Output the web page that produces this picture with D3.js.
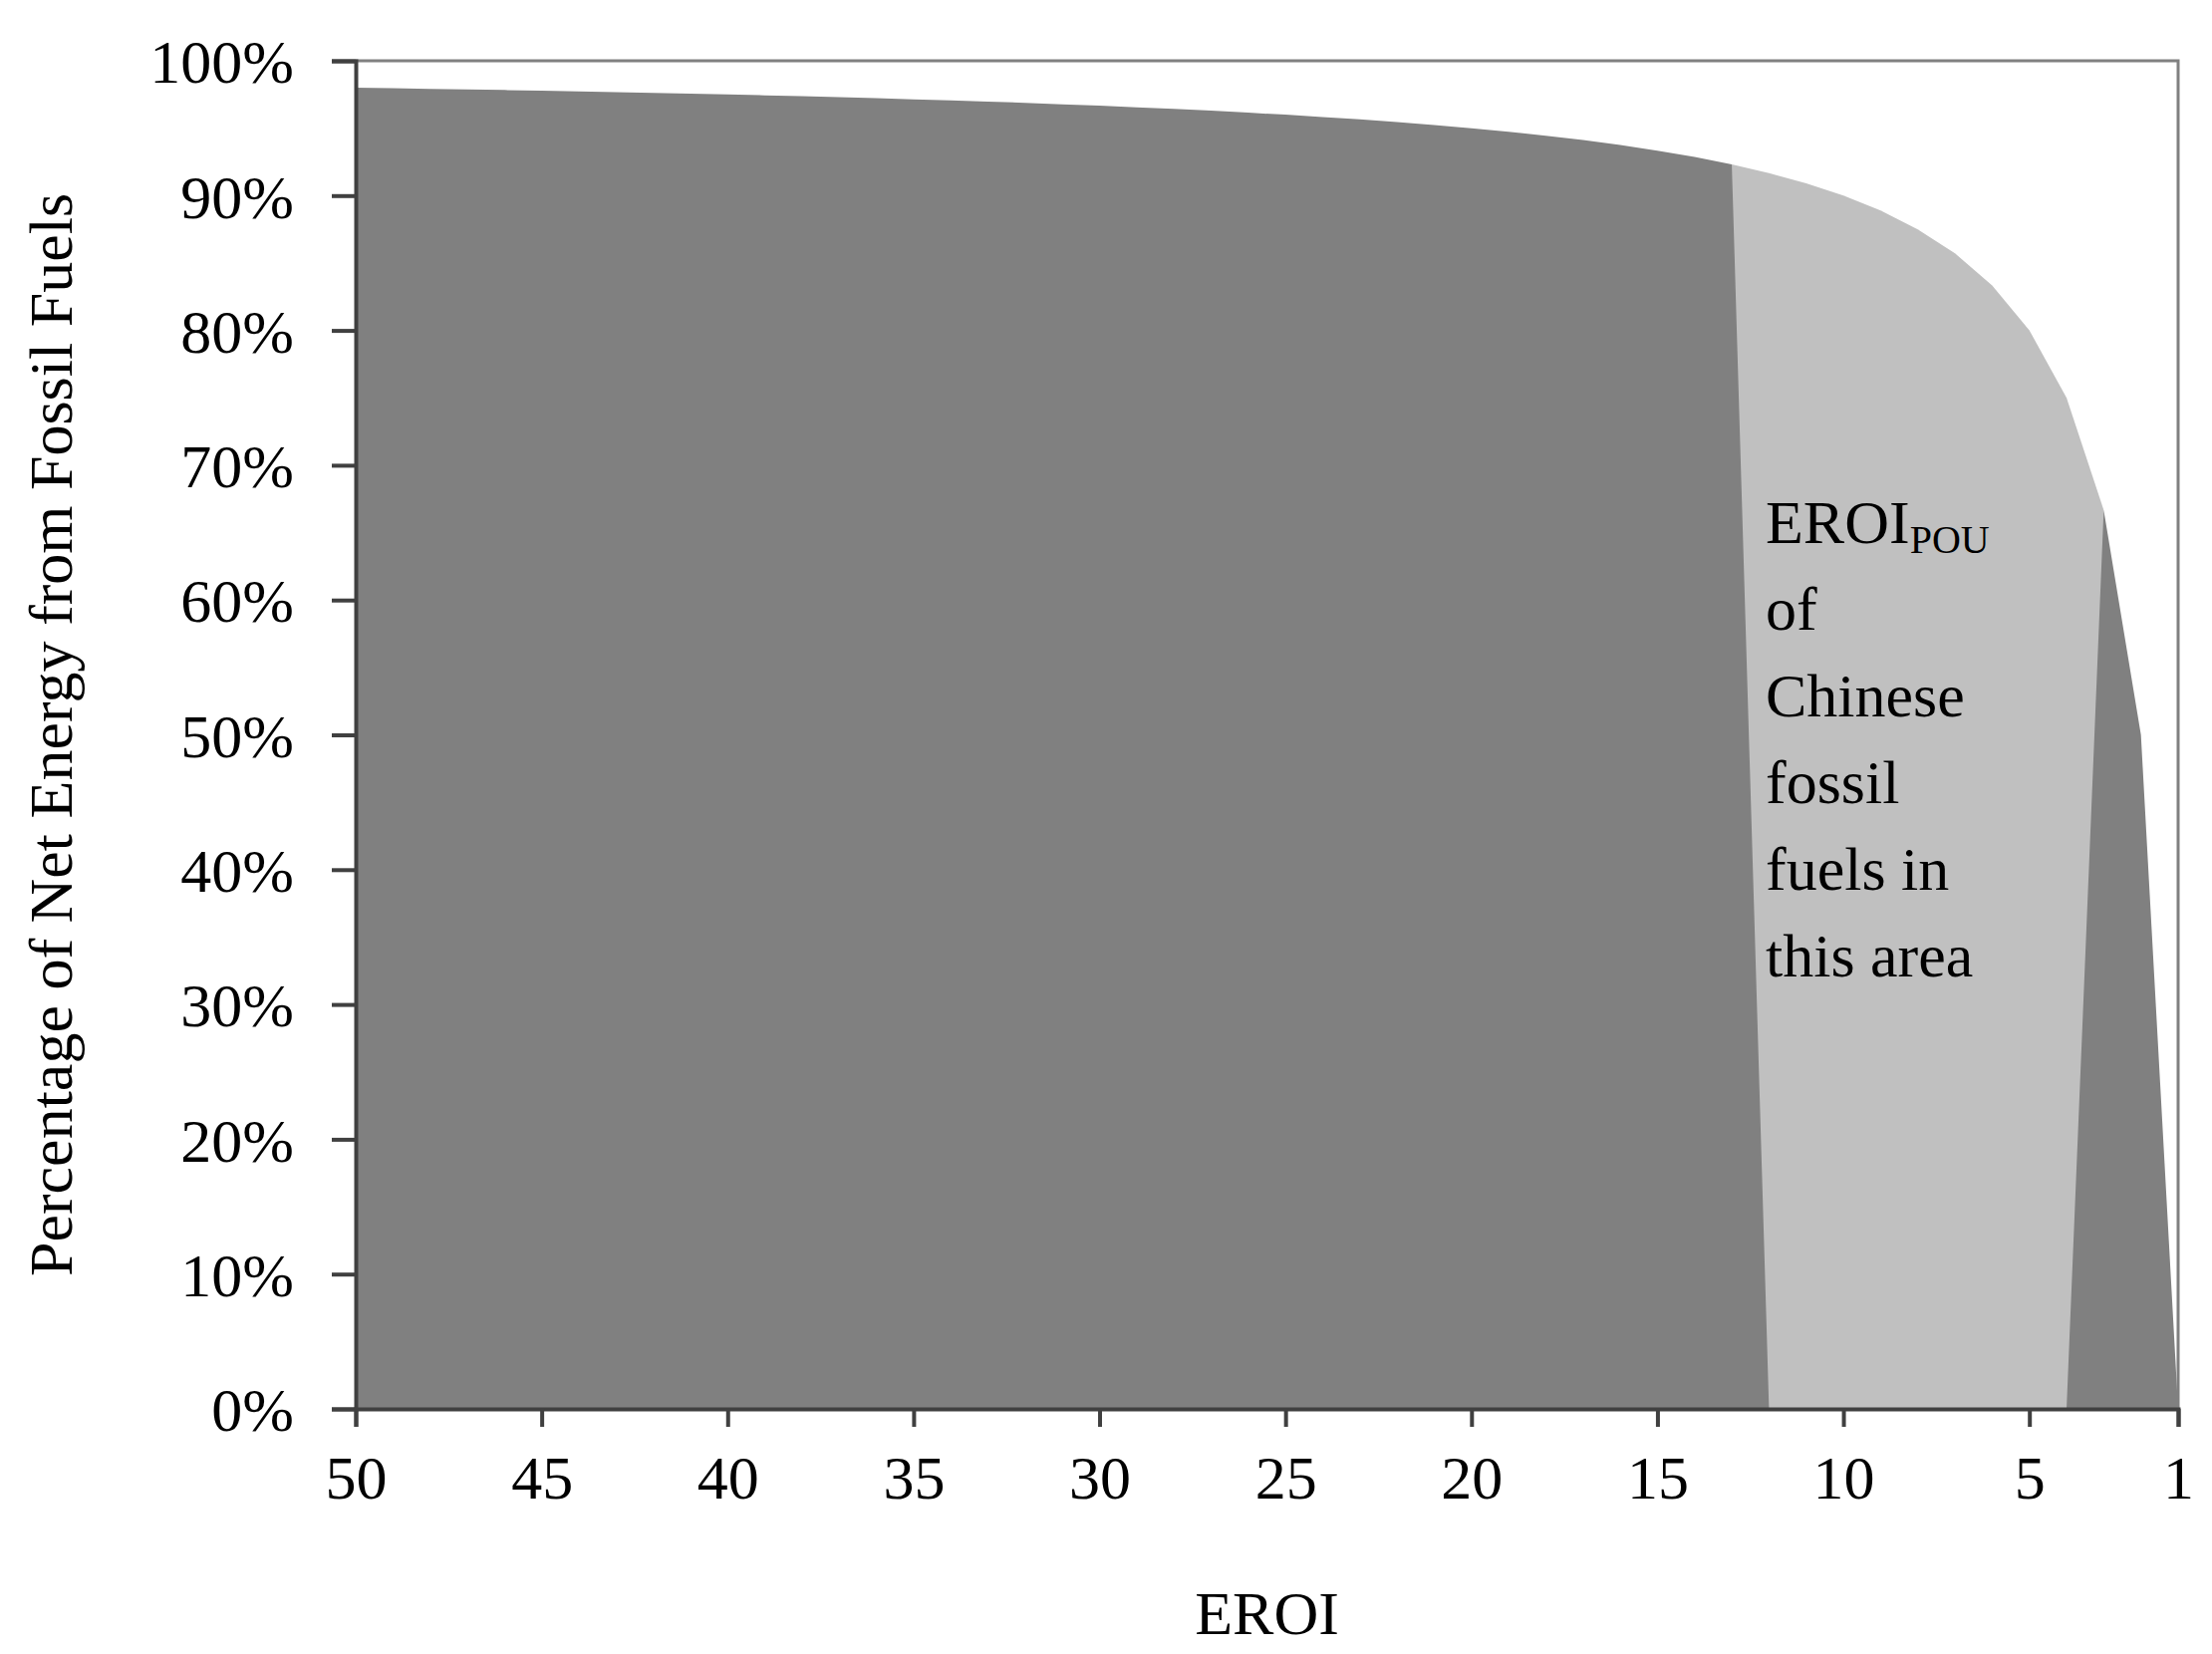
<!DOCTYPE html>
<html><head><meta charset="utf-8">
<script src="https://cdn.jsdelivr.net/npm/d3@7"></script>
<style>body{margin:0;background:#fff}text{font-family:"Liberation Serif","Times New Roman",serif;fill:#000}</style>
</head><body><svg id="c" width="2220" height="1660"></svg>
<script>
var eroi = [50,49,48,47,46,45,44,43,42,41,40,39,38,37,36,35,34,33,32,31,30,29,28,27,26,25,24,23,22,21,20,19,18,17,16,15,14,13,12,11,10,9,8,7,6,5,4,3,2,1];
// share of net energy
var netShare = [0.98,0.9796,0.9792,0.9787,0.9783,0.9778,0.9773,0.9767,0.9762,0.9756,0.975,0.9744,0.9737,0.973,0.9722,0.9714,0.9706,0.9697,0.9688,0.9677,0.9667,0.9655,0.9643,0.963,0.9615,0.96,0.9583,0.9565,0.9545,0.9524,0.95,0.9474,0.9444,0.9412,0.9375,0.9333,0.9286,0.9231,0.9167,0.9091,0.9,0.8889,0.875,0.8571,0.8333,0.8,0.75,0.6667,0.5,0];
var pouFrom = 13, pouTo = 3;   // light band
var darkZeroFrom = 12, darkZeroTo = 4;
var xTicks = [50,45,40,35,30,25,20,15,10,5,1];
var yTicks = [0,0.1,0.2,0.3,0.4,0.5,0.6,0.7,0.8,0.9,1];

var svg = d3.select("#c");
var L = 357, R = 2186, T = 61, B = 1414;
var x = d3.scaleLinear().domain([50,1]).range([L,R]);
var y = d3.scaleLinear().domain([0,1]).range([B,T]);

var light = eroi.map(function(e,i){ return {e:e, v:(e<=pouFrom && e>=pouTo) ? netShare[i] : null}; });
var dark = eroi.map(function(e,i){ return {e:e, v:(e<=darkZeroFrom && e>=darkZeroTo) ? 0 : netShare[i]}; });

var area = d3.area().defined(function(d){ return d.v!==null; })
    .x(function(d){ return x(d.e); }).y0(y(0)).y1(function(d){ return y(d.v); });

svg.append("path").attr("d", area(light)).attr("fill","#c0c0c0");
svg.append("path").attr("d", area(dark)).attr("fill","#808080");

// plot border
svg.append("path").attr("d","M"+L+","+T+"H"+R+"V"+B).attr("fill","none").attr("stroke","#808080").attr("stroke-width",3);

var yAxis = svg.append("g").attr("transform","translate("+L+",0)")
    .call(d3.axisLeft(y).tickValues(yTicks).tickFormat(d3.format(".0%")).tickSize(24).tickPadding(10));
var xAxis = svg.append("g").attr("transform","translate(0,"+B+")")
    .call(d3.axisBottom(x).tickValues(xTicks).tickFormat(d3.format("d")).tickSize(18).tickPadding(28));
[yAxis,xAxis].forEach(function(a){
    a.select(".domain").attr("stroke","#404040").attr("stroke-width",4);
    a.selectAll(".tick line").attr("stroke","#404040").attr("stroke-width",4);
    a.selectAll("text").style("font-size","62px").attr("font-family",null);
});
yAxis.selectAll("text").attr("x",-62).attr("dy","0.35em");

svg.append("text").attr("x",(L+R)/2-0).attr("y",1640).attr("text-anchor","middle")
    .style("font-size","62px").text("EROI");
svg.append("text").attr("transform","translate(72,"+((T+B)/2)+") rotate(-90)")
    .attr("text-anchor","middle").style("font-size","62px")
    .text("Percentage of Net Energy from Fossil Fuels");

var note = svg.append("text").style("font-size","62px");
var lines = ["EROI","of","Chinese","fossil","fuels in","this area"];
lines.forEach(function(s,i){
    var t = note.append("tspan").attr("x",1772).attr("y",545+i*87).text(s);
    if (i===0) note.append("tspan").attr("dy",10).style("font-size","40px").text("POU");
});
</script></body></html>
